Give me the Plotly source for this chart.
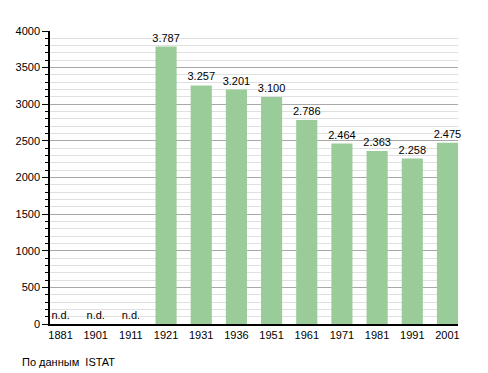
import plotly.graph_objects as go

years = ["1881", "1901", "1911", "1921", "1931", "1936", "1951", "1961", "1971", "1981", "1991", "2001"]
population = [None, None, None, 3787, 3257, 3201, 3100, 2786, 2464, 2363, 2258, 2475]

yvals = [v if v is not None else 0 for v in population]
labels = ["n.d." if v is None else f"{v:,}".replace(",", ".") for v in population]

fig = go.Figure()
fig.add_trace(go.Bar(
    x=years, y=yvals, text=labels, textposition="outside", cliponaxis=False,
    constraintext="none",
    marker=dict(color="#99cc99", line=dict(width=0)),
    textfont=dict(family="Liberation Sans, Arial, sans-serif", size=11, color="black"),
    width=0.6,
))
fig.update_layout(
    width=488, height=373,
    margin=dict(l=50, r=30, t=31, b=49),
    paper_bgcolor="white", plot_bgcolor="white",
    font=dict(family="Liberation Sans, Arial, sans-serif", size=11, color="black"),
    showlegend=False,
    xaxis=dict(type="category", range=[-0.3, 11.3], showline=True, linecolor="black", linewidth=2,
               ticks="", showgrid=False, tickfont=dict(size=11)),
    yaxis=dict(range=[0, 4000], dtick=500, showline=True, linecolor="black", linewidth=1.5,
               ticks="outside", ticklen=6, tickcolor="black", showgrid=True,
               gridcolor="#a8a8a8", gridwidth=1, zeroline=False,
               minor=dict(dtick=100, showgrid=True, gridcolor="#e0e0e0", gridwidth=1,
                          ticks="outside", ticklen=3, tickcolor="black")),
    annotations=[dict(text="По данным  ISTAT", x=-30/408, y=-38/293, xref="paper", yref="paper",
                      xanchor="left", yanchor="middle", showarrow=False,
                      font=dict(size=11))],
)
fig.write_html("out.html", config={"displayModeBar": False},
               post_script="document.body.style.margin='0';")
